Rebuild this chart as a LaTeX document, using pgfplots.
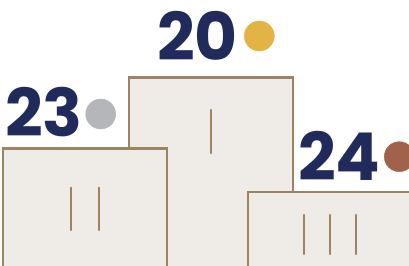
\documentclass[border=0pt]{standalone}
\usepackage{pgfplots}
\pgfplotsset{compat=1.18}
\usepackage{fontspec}
\setmainfont{Poppins}
\newfontfamily\numfont{Poppins Bold}
\definecolor{navy}{HTML}{212B5B}
\definecolor{gold}{HTML}{E3B444}
\definecolor{silver}{HTML}{B5B6BA}
\definecolor{bronze}{HTML}{A0624B}
\definecolor{edge}{HTML}{9C8463}
\definecolor{boxfill}{HTML}{EFECE7}
\begin{document}
\begin{tikzpicture}
\begin{axis}[
  width=409bp, height=266bp, scale only axis,
  xmin=0, xmax=409, ymin=0, ymax=266,
  hide axis, clip marker paths=true,
]
% middle (1st place) box
\addplot[draw=edge, line width=2.2bp, fill=boxfill] coordinates {(128.7,-20) (128.7,188.5) (293,188.5) (293,-20)} -- cycle;
% left (2nd place) box
\addplot[draw=edge, line width=2.2bp, fill=boxfill] coordinates {(3,-20) (3,117.5) (167,117.5) (167,-20)} -- cycle;
% right (3rd place) box
\addplot[draw=edge, line width=2.2bp, fill=boxfill] coordinates {(248.3,-20) (248.3,73.8) (430,73.8) (430,-20)} -- cycle;
% rank strokes
\addplot[draw=edge, line width=2.2bp, line cap=round] coordinates {(210.7,156) (210.7,113)};
\addplot[draw=edge, line width=2.2bp, line cap=round] coordinates {(70.7,78.3) (70.7,36)};
\addplot[draw=edge, line width=2.2bp, line cap=round] coordinates {(99.3,78.3) (99.3,36)};
\addplot[draw=edge, line width=2.2bp, line cap=round] coordinates {(304.3,51) (304.3,12)};
\addplot[draw=edge, line width=2.2bp, line cap=round] coordinates {(330.3,51) (330.3,12)};
\addplot[draw=edge, line width=2.2bp, line cap=round] coordinates {(356.3,51) (356.3,12)};
% medals
\addplot[only marks, mark=*, mark size=15bp, color=gold] coordinates {(259.3,230)};
\addplot[only marks, mark=*, mark size=15bp, color=silver] coordinates {(100.7,152)};
\addplot[only marks, mark=*, mark size=15bp, color=bronze] coordinates {(399.3,109.3)};
% numbers
\node[anchor=base west, inner sep=0pt, text=navy, font=\numfont\fontsize{66bp}{66bp}\selectfont] at (axis cs:157,205.5) {20};
\node[anchor=base west, inner sep=0pt, text=navy, font=\numfont\fontsize{66bp}{66bp}\selectfont] at (axis cs:5,129) {23};
\node[anchor=base west, inner sep=0pt, text=navy, font=\numfont\fontsize{66bp}{66bp}\selectfont] at (axis cs:298,85) {24};
\end{axis}
\pgfresetboundingbox
\path[use as bounding box] (current axis.south west) rectangle (current axis.north east);
\end{tikzpicture}
\end{document}
